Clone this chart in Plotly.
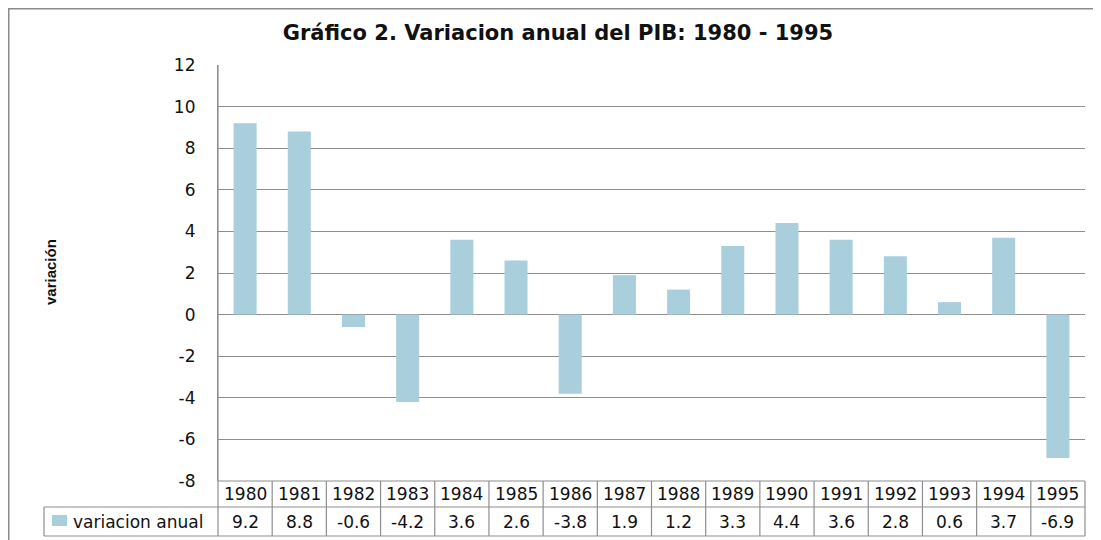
import plotly.graph_objects as go

years = ["1980", "1981", "1982", "1983", "1984", "1985", "1986", "1987",
         "1988", "1989", "1990", "1991", "1992", "1993", "1994", "1995"]
variacion = [9.2, 8.8, -0.6, -4.2, 3.6, 2.6, -3.8, 1.9,
             1.2, 3.3, 4.4, 3.6, 2.8, 0.6, 3.7, -6.9]
y_ticks = [-8, -6, -4, -2, 0, 2, 4, 6, 8, 10, 12]

series_name = "variacion anual"
title_text = "Gráfico 2. Variacion anual del PIB: 1980 - 1995"
y_title = "variación"

BAR = "#a9cfdc"
GRID = "#8e8e8e"
FONT = "DejaVu Sans"
TXT = "#111111"

# the page body has an 8px margin, so work in page pixels and shift
OFF = 8
PAGE_W, PAGE_H = 1101, 540
W, H = PAGE_W - OFF, PAGE_H - OFF
P_L, P_R, P_T, P_B = 218, 1085, 65, 481      # plot area on the page
plot_w = P_R - P_L
plot_h = P_B - P_T


def px_x(p):
    return (p - P_L) / plot_w


def px_y(p):
    return (P_B - p) / plot_h


row1 = px_y(507)
row2 = px_y(536)
legend_left = px_x(44)

fig = go.Figure()
fig.add_trace(go.Bar(
    x=years, y=variacion, name=series_name,
    marker=dict(color=BAR, line=dict(width=0)),
    showlegend=False,
))

shapes = []
line = dict(color=GRID, width=1.2)
# horizontal table lines
for yy, x0 in [(0, 0), (row1, legend_left), (row2, legend_left)]:
    shapes.append(dict(type="line", xref="paper", yref="paper",
                       x0=x0, x1=1, y0=yy, y1=yy, line=line))
# vertical cell separators
n = len(years)
for i in range(n + 1):
    shapes.append(dict(type="line", xref="paper", yref="paper",
                       x0=i / n, x1=i / n, y0=0 if i else 1, y1=row2, line=line))
shapes.append(dict(type="line", xref="paper", yref="paper",
                   x0=legend_left, x1=legend_left, y0=row1, y1=row2, line=line))
# legend key
shapes.append(dict(type="rect", xref="paper", yref="paper",
                   x0=px_x(52), x1=px_x(67), y0=px_y(526), y1=px_y(515),
                   fillcolor=BAR, line=dict(width=0)))
# outer chart frame (runs off the page on the right and bottom)
shapes.append(dict(type="rect", xref="paper", yref="paper",
                   x0=px_x(OFF + 0.75), x1=px_x(1130), y0=px_y(OFF + 0.75), y1=px_y(570),
                   line=dict(color="#8a8a8a", width=1.5)))

cell_font = dict(family=FONT, size=17, color=TXT)
annotations = []
for i, (yr, v) in enumerate(zip(years, variacion)):
    annotations.append(dict(x=i, xref="x", y=row1 / 2, yref="paper",
                            xanchor="center", yanchor="middle",
                            text=yr, showarrow=False, font=cell_font))
    annotations.append(dict(x=i, xref="x", y=(row1 + row2) / 2, yref="paper",
                            xanchor="center", yanchor="middle",
                            text=f"{v:.1f}", showarrow=False, font=cell_font))
annotations.append(dict(x=px_x(71), xref="paper", y=(row1 + row2) / 2, yref="paper",
                        xanchor="left", yanchor="middle",
                        text=series_name, showarrow=False, font=cell_font))
annotations.append(dict(x=px_x(50), xref="paper", y=px_y(272), yref="paper",
                        xanchor="center", yanchor="middle",
                        text=f"<b>{y_title}</b>", showarrow=False, textangle=-90,
                        font=dict(family="Liberation Sans, Arial", size=15, color=TXT)))

fig.update_layout(
    width=W, height=H,
    margin=dict(l=P_L - OFF, r=W - (P_R - OFF), t=P_T - OFF, b=H - (P_B - OFF)),
    paper_bgcolor="white", plot_bgcolor="white",
    title=dict(text=f"<b>{title_text}</b>", x=(558 - OFF) / W, xanchor="center",
               y=1 - (33 - OFF) / H, yanchor="middle",
               font=dict(family="DejaVu Sans", size=21, color=TXT)),
    bargap=0.575,
    shapes=shapes,
    annotations=annotations,
    font=dict(family=FONT, size=17, color=TXT),
)
fig.update_xaxes(type="category", range=[-0.5, n - 0.5], showticklabels=False,
                 showgrid=False, showline=False, zeroline=False, ticks="")
fig.update_yaxes(range=[-8, 12], tickvals=y_ticks, ticktext=[str(t) for t in y_ticks],
                 showgrid=True, gridcolor=GRID, gridwidth=1.2,
                 zeroline=True, zerolinecolor=GRID, zerolinewidth=1.2,
                 showline=True, linecolor=GRID, linewidth=1.2, ticks="",
                 ticklabelstandoff=18, tickfont=dict(family=FONT, size=17, color=TXT))

fig.write_html("out.html")
